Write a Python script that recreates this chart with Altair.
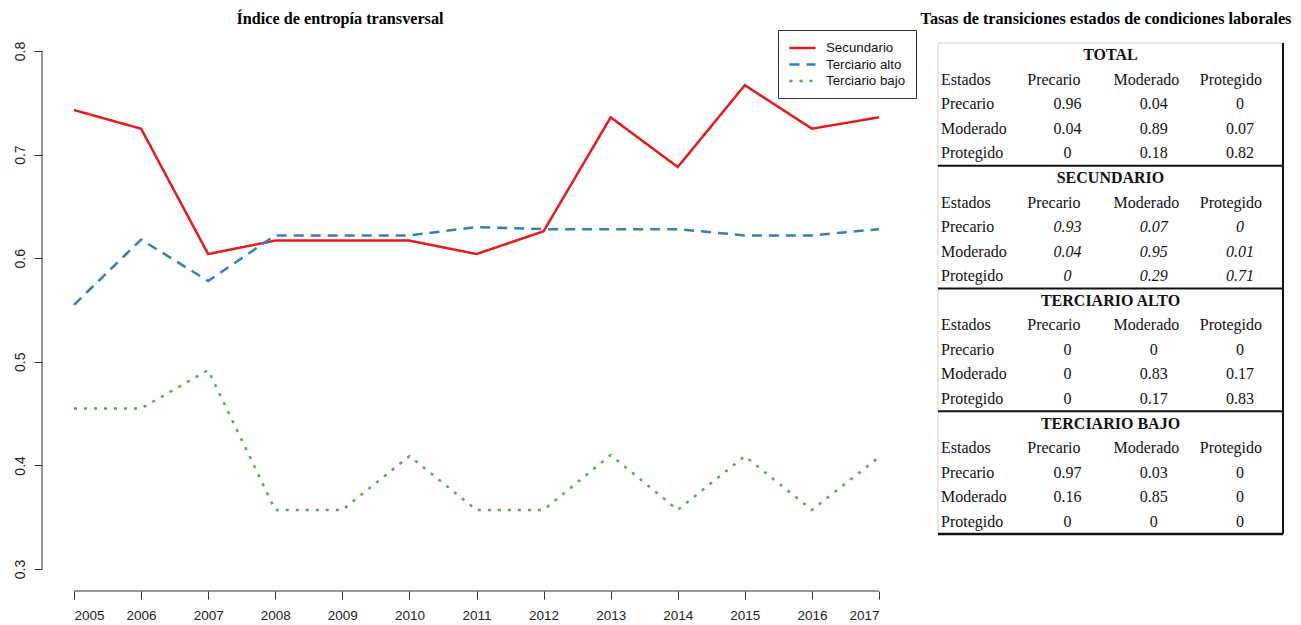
import altair as alt
import pandas as pd

# ---------------- data ----------------
years = [2005, 2006, 2007, 2008, 2009, 2010, 2011, 2012, 2013, 2014, 2015, 2016, 2017]
secundario = [0.743, 0.725, 0.604, 0.617, 0.617, 0.617, 0.604, 0.626, 0.736, 0.688, 0.767, 0.725, 0.736]
terciario_alto = [0.555, 0.618, 0.578, 0.622, 0.622, 0.622, 0.630, 0.628, 0.628, 0.628, 0.622, 0.622, 0.628]
terciario_bajo = [0.455, 0.455, 0.492, 0.357, 0.357, 0.409, 0.357, 0.357, 0.410, 0.357, 0.409, 0.357, 0.408]
series_names = ["Secundario", "Terciario alto", "Terciario bajo"]
y_ticks = [0.3, 0.4, 0.5, 0.6, 0.7, 0.8]

left_title = "Índice de entropía transversal"
table_title = "Tasas de transiciones estados de condiciones laborales"
section_names = ["TOTAL", "SECUNDARIO", "TERCIARIO ALTO", "TERCIARIO BAJO"]
header_first = "Estados"
state_names = ["Precario", "Moderado", "Protegido"]
total_vals = [["0.96", "0.04", "0"], ["0.04", "0.89", "0.07"], ["0", "0.18", "0.82"]]
secundario_vals = [["0.93", "0.07", "0"], ["0.04", "0.95", "0.01"], ["0", "0.29", "0.71"]]
alto_vals = [["0", "0", "0"], ["0", "0.83", "0.17"], ["0", "0.17", "0.83"]]
bajo_vals = [["0.97", "0.03", "0"], ["0.16", "0.85", "0"], ["0", "0", "0"]]
italic_sections = ["SECUNDARIO"]

# ---------------- style ----------------
colors = ["#E41A1C", "#377EB8", "#4DAF4A"]
dashes = [[1, 0], [10, 7], [3, 7]]
SANS = "Liberation Sans"
SERIF = "Liberation Serif"
AX = "#333333"

PLOT_W = 1241
PLOT_H = 561

# ---------------- line chart ----------------
rows = []
for name, vals in zip(series_names, [secundario, terciario_alto, terciario_bajo]):
    for yr, v in zip(years, vals):
        rows.append({"year": yr, "value": v, "series": name})
df = pd.DataFrame(rows)

x_scale = alt.Scale(domain=[years[0], years[-1]], range=[32, 837], nice=False, zero=False)
y_scale = alt.Scale(domain=[y_ticks[0], y_ticks[-1]], range=[539, 21], nice=False, zero=False)

x_axis = alt.Axis(values=years, format="d", domain=False, grid=False, tickSize=8,
                  tickColor=AX, tickWidth=1, labelPadding=9, labelFont=SANS,
                  labelFontSize=13.5, labelColor="#222", title=None)
y_axis = alt.Axis(values=y_ticks, format=".1f", domain=False, grid=False, tickSize=8,
                  tickColor=AX, tickWidth=1, labelPadding=10, labelFont=SANS,
                  labelFontSize=14, labelColor="#222", labelAngle=270,
                  labelAlign="center", labelBaseline="alphabetic", title=None)

legend = alt.Legend(title=None, orient="none", legendX=736, legendY=0,
                    strokeColor=AX, fillColor="white", padding=10,
                    symbolType="M-1,0H3", symbolSize=169, symbolStrokeWidth=2.5,
                    labelFont=SANS, labelFontSize=13.3, labelColor="#111",
                    labelOffset=22, rowPadding=1.5)

lines = alt.Chart(df).mark_line(strokeWidth=2.5).encode(
    x=alt.X("year:Q", scale=x_scale, axis=x_axis),
    y=alt.Y("value:Q", scale=y_scale, axis=y_axis),
    color=alt.Color("series:N", scale=alt.Scale(domain=series_names, range=colors), legend=legend),
    strokeDash=alt.StrokeDash("series:N", scale=alt.Scale(domain=series_names, range=dashes), legend=legend),
)

xline = alt.Chart(pd.DataFrame({"x0": [years[0]], "x1": [years[-1]]})).mark_rule(
    color=AX, strokeWidth=1).encode(
    x=alt.X("x0:Q", scale=x_scale, axis=x_axis), x2="x1:Q", y=alt.value(PLOT_H))
yline = alt.Chart(pd.DataFrame({"y0": [y_ticks[0]], "y1": [y_ticks[-1]]})).mark_rule(
    color=AX, strokeWidth=1).encode(
    y=alt.Y("y0:Q", scale=y_scale, axis=y_axis), y2="y1:Q", x=alt.value(0))

left = alt.layer(xline, yline, lines)

# ---------------- table ----------------
tx = alt.Scale(domain=[0, 4], range=[896, 1241], nice=False, zero=False)
ty = alt.Scale(domain=[0, 20], range=[13, 504], nice=False, zero=False)

sec_rows, left_rows, val_rows, ital_rows = [], [], [], []
for s, (sec, vals) in enumerate(zip(section_names, [total_vals, secundario_vals, alto_vals, bajo_vals])):
    base = s * 5
    sec_rows.append({"c": 2.0, "r": base + 0.5, "t": sec})
    left_rows.append({"c": 0, "r": base + 1.5, "t": header_first})
    for j, h in enumerate(state_names):
        left_rows.append({"c": j + 1, "r": base + 1.5, "t": h})
    for i, rn in enumerate(state_names):
        left_rows.append({"c": 0, "r": base + 2.5 + i, "t": rn})
        for j in range(3):
            rec = {"c": j + 1.5, "r": base + 2.5 + i, "t": vals[i][j]}
            (ital_rows if sec in italic_sections else val_rows).append(rec)


def txt(data, **mk):
    return alt.Chart(pd.DataFrame(data)).mark_text(font=SERIF, fontSize=16, color="#111",
                                                   baseline="middle", **mk).encode(
        x=alt.X("c:Q", scale=tx, axis=None),
        y=alt.Y("r:Q", scale=ty, axis=None),
        text="t:N")


t_sec = txt(sec_rows, fontWeight="bold", align="center")
t_left = txt(left_rows, align="left", dx=3)
t_val = txt(val_rows, align="center")
t_ital = txt(ital_rows, align="center", fontStyle="italic")

rules = []
rules.append({"x0": 0, "x1": 4, "y0": 0, "y1": 0, "col": "#d0d0d0", "w": 1})
rules.append({"x0": 0, "x1": 0, "y0": 0, "y1": 20, "col": "#d0d0d0", "w": 1})
for b in [5, 10, 15]:
    rules.append({"x0": 0, "x1": 4, "y0": b, "y1": b, "col": "#111", "w": 2})
rules.append({"x0": 0, "x1": 4, "y0": 20, "y1": 20, "col": "#111", "w": 2.5})
rules.append({"x0": 4, "x1": 4, "y0": 0, "y1": 20, "col": "#111", "w": 2})
t_rules = alt.Chart(pd.DataFrame(rules)).mark_rule().encode(
    x=alt.X("x0:Q", scale=tx, axis=None), x2="x1:Q",
    y=alt.Y("y0:Q", scale=ty, axis=None), y2="y1:Q",
    color=alt.Color("col:N", scale=None),
    strokeWidth=alt.StrokeWidth("w:Q", scale=None),
)

title_l = alt.Chart(pd.DataFrame({"t": [left_title]})).mark_text(
    font=SERIF, fontSize=16.2, fontWeight="bold", color="#000", align="center",
    baseline="alphabetic").encode(x=alt.value(298), y=alt.value(-6), text="t:N")
title_r = alt.Chart(pd.DataFrame({"t": [table_title]})).mark_text(
    font=SERIF, fontSize=16.2, fontWeight="bold", color="#000", align="center",
    baseline="alphabetic").encode(x=alt.value(1064), y=alt.value(-6), text="t:N")

table = alt.layer(t_rules, t_sec, t_left, t_val, t_ital, title_l, title_r)

chart = alt.layer(left, table).resolve_scale(
    x="independent", y="independent"
).properties(
    width=PLOT_W, height=PLOT_H,
    autosize=alt.AutoSizeParams(type="none"),
    padding={"left": 34, "top": 22, "right": 10, "bottom": 34},
    background="white",
).configure_view(stroke=None)

chart.save("out.html", embed_options={"renderer": "svg", "actions": False})
